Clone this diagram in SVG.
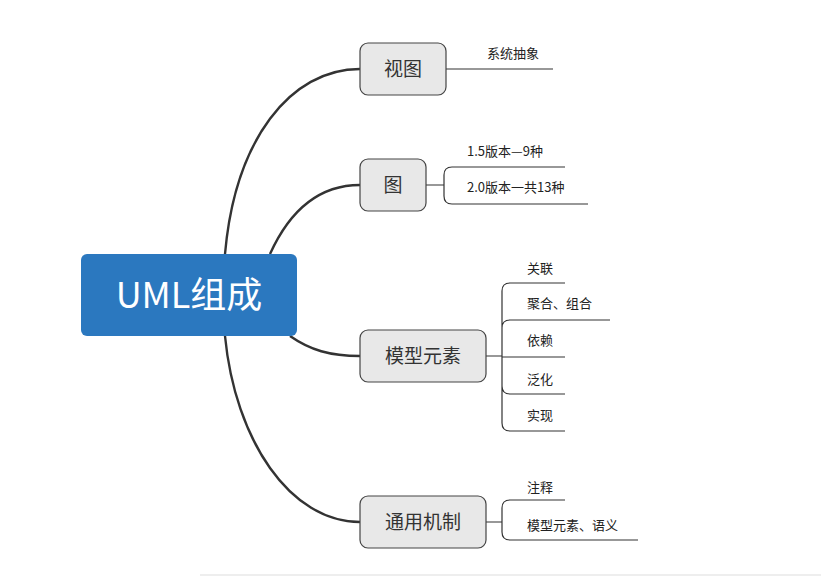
<svg xmlns="http://www.w3.org/2000/svg" width="821" height="576" viewBox="0 0 821 576">
<style>
.n rect{fill:#e8e8e8;stroke:#444;stroke-width:1.2}
.n text{font-family:"Noto Sans CJK SC","Noto Sans",sans-serif;font-size:19px;fill:#333;text-anchor:middle}
.t{font-family:"Noto Sans CJK SC","Noto Sans",sans-serif;font-size:13px;fill:#222}
#c path{fill:none;stroke:#333;stroke-width:2.4}
#l path{fill:none;stroke:#333;stroke-width:1.2}
</style>
<rect width="821" height="576" fill="#fff"/>
<g id="c">
<path d="M225,254 C235,140 290,69 360,69"/>
<path d="M270,254 C290,210 320,185 360,185"/>
<path d="M290,336 C310,350 330,356 360,356"/>
<path d="M225,336 C235,440 290,522 360,522"/>
</g>
<g id="l">
<path d="M446,69 H553"/>
<path d="M426,185 H444 M565,167 H452 Q444,167 444,175 V196 Q444,204 452,204 H588"/>
<path d="M486,356 H502 M565,283 H510 Q502,283 502,291 V423 Q502,431 510,431 H565 M610,320 H510 Q502,320 502,328 M565,357 H502 M565,394 H510 Q502,394 502,386"/>
<path d="M486,522 H502 M565,500 H510 Q502,500 502,508 V532 Q502,540 510,540 H638"/>
</g>
<g id="root"><rect x="81" y="254" width="216" height="82" rx="6" fill="#2b78bf"/><text x="189" y="308" font-family="Noto Sans CJK SC,sans-serif" font-size="36" fill="#fff" text-anchor="middle">UML组成</text></g>
<g id="n1" class="n"><rect x="360" y="43" width="86" height="52" rx="8"/><text x="403" y="76">视图</text></g>
<g id="n2" class="n"><rect x="360" y="159" width="66" height="52" rx="8"/><text x="393" y="192">图</text></g>
<g id="n3" class="n"><rect x="360" y="330" width="126" height="52" rx="8"/><text x="423" y="363">模型元素</text></g>
<g id="n4" class="n"><rect x="360" y="496" width="126" height="52" rx="8"/><text x="423" y="529">通用机制</text></g>
<g id="leaves">
<text class="t" x="487" y="58">系统抽象</text>
<text class="t" x="467" y="156">1.5版本—9种</text>
<text class="t" x="467" y="192">2.0版本一共13种</text>
<text class="t" x="527" y="273">关联</text>
<text class="t" x="527" y="308">聚合、组合</text>
<text class="t" x="527" y="345">依赖</text>
<text class="t" x="527" y="384">泛化</text>
<text class="t" x="527" y="420">实现</text>
<text class="t" x="527" y="492">注释</text>
<text class="t" x="527" y="530">模型元素、语义</text>
</g>
<line x1="200" y1="575" x2="821" y2="575" stroke="#ddd"/>
</svg>
